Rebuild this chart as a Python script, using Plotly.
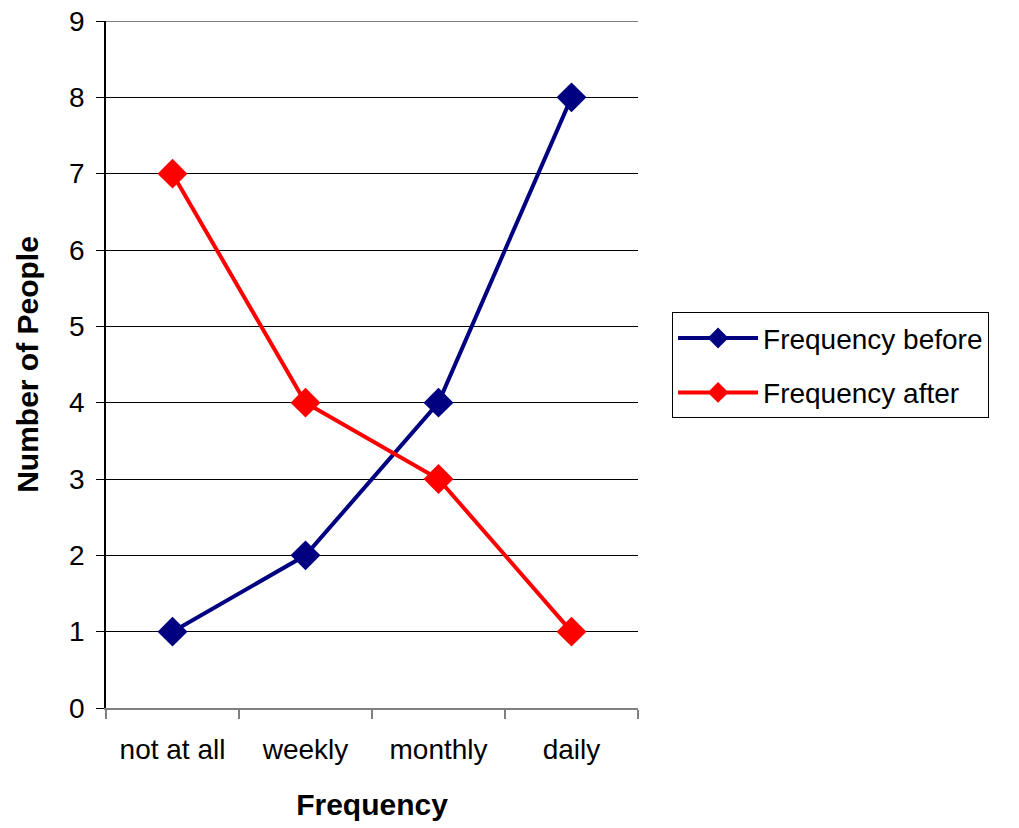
import plotly.graph_objects as go

categories = ["not at all", "weekly", "monthly", "daily"]
freq_before = [1, 2, 4, 8]
freq_after = [7, 4, 3, 1]
y_ticks = [0, 1, 2, 3, 4, 5, 6, 7, 8, 9]
y_max = 9

FONT = "Liberation Sans, Arial, sans-serif"
TICK_SIZE = 28
TITLE_SIZE = 30

fig = go.Figure()
fig.add_trace(go.Scatter(
    x=categories, y=freq_before, name="Frequency before",
    mode="lines+markers", legendgroup="a",
    line=dict(color="#000080", width=4),
    marker=dict(symbol="diamond", size=23, color="#000080"),
))
fig.add_trace(go.Scatter(
    x=categories, y=freq_after, name="Frequency after",
    mode="lines+markers", legendgroup="b",
    line=dict(color="#FF0000", width=4),
    marker=dict(symbol="diamond", size=23, color="#FF0000"),
))

# top gridline at the upper end of the value axis
fig.add_shape(
    type="line", xref="paper", yref="y", x0=0, x1=1, y0=y_max, y1=y_max,
    line=dict(color="black", width=1), layer="below",
)

fig.update_layout(
    width=1019, height=828,
    margin=dict(l=106, r=381, t=21, b=120),
    paper_bgcolor="white", plot_bgcolor="white",
    font=dict(family=FONT, size=TICK_SIZE, color="black"),
    showlegend=True,
    legend=dict(
        x=1.064, y=0.576, xanchor="left", yanchor="top",
        bordercolor="black", borderwidth=1, bgcolor="white",
        font=dict(family=FONT, size=TICK_SIZE, color="black"),
        traceorder="grouped", tracegroupgap=15,
        itemwidth=80,
    ),
    xaxis=dict(
        type="category", range=[-0.5, 3.5], automargin=False,
        tickson="boundaries", ticks="outside", ticklen=9,
        tickcolor="#808080", tickwidth=1.5,
        showline=True, linecolor="#808080", linewidth=1.5,
        showgrid=False, zeroline=False,
        tickfont=dict(family=FONT, size=TICK_SIZE),
        ticklabelstandoff=16,
        title=dict(text="<b>Frequency</b>", font=dict(family=FONT, size=TITLE_SIZE), standoff=30),
    ),
    yaxis=dict(
        range=[0, y_max], tickvals=y_ticks, automargin=False,
        ticks="outside", ticklen=8, tickcolor="black", tickwidth=1,
        showline=True, linecolor="black", linewidth=1.5,
        showgrid=True, gridcolor="black", gridwidth=1,
        zeroline=False,
        tickfont=dict(family=FONT, size=TICK_SIZE),
        ticklabelstandoff=6,
        title=dict(text="<b>Number of People</b>", font=dict(family=FONT, size=TITLE_SIZE), standoff=22),
    ),
)

fig.write_html("out.html")
